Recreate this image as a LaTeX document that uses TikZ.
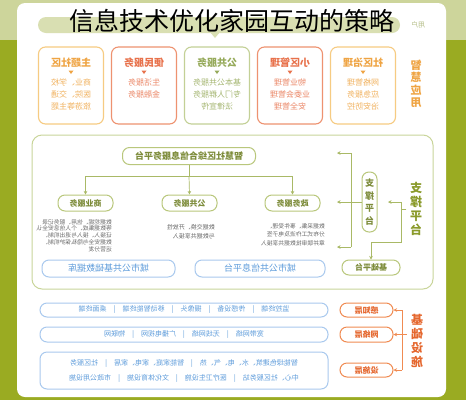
\documentclass[tikz,border=0pt]{standalone}
\usepackage{fontspec}
\setmainfont{Noto Sans CJK SC}
\usetikzlibrary{arrows.meta}

\definecolor{olivedark}{HTML}{9AAB22}
\definecolor{olivelight}{HTML}{CDD59B}
\definecolor{barfill}{HTML}{D9DFB2}
\definecolor{usertext}{HTML}{B5BE88}
\definecolor{ylwline}{HTML}{F6CB82}
\definecolor{ylwtext}{HTML}{EFA443}
\definecolor{salline}{HTML}{EE9270}
\definecolor{saltext}{HTML}{E8724C}
\definecolor{grnline}{HTML}{C3D096}
\definecolor{grntext}{HTML}{96AA5A}
\definecolor{panelline}{HTML}{C9D59A}
\definecolor{pillline}{HTML}{B9C77C}
\definecolor{pilltext}{HTML}{7D8C3A}
\definecolor{connline}{HTML}{A9B966}
\definecolor{desctext}{HTML}{6A6A6A}
\definecolor{blueline}{HTML}{A9C9EE}
\definecolor{bluetext}{HTML}{5E9CDB}
\definecolor{orgline}{HTML}{F08B52}
\definecolor{orgtext}{HTML}{E5672E}
\definecolor{labelolive}{HTML}{8A9A2A}

\newcommand{\fenge}{\quad|\quad}

\tikzset{
  appbox/.style={draw=#1,line width=1.1pt,rounded corners=7pt,minimum width=65pt,minimum height=77pt},
  apptitle/.style={text=#1,font=\fontsize{10}{10}\selectfont\bfseries},
  applines/.style={text=#1,font=\fontsize{8}{12}\selectfont,align=center,inner sep=0pt,anchor=north},
  pill/.style={draw=#1,line width=1pt,rounded corners=7pt,fill=white,inner sep=0pt},
  greenpill/.style={pill=pillline,text=pilltext,font=\fontsize{8}{8}\selectfont\bfseries},
  bluepill/.style={pill=blueline,text=bluetext,font=\fontsize{9}{9}\selectfont},
  rowpill/.style={pill=blueline,text=bluetext,font=\fontsize{7}{15}\selectfont,align=center,minimum width=288pt},
  orgpill/.style={pill=orgline,text=orgtext,font=\fontsize{8}{8}\selectfont\bfseries,minimum width=53pt,minimum height=14pt},
  desc/.style={text=desctext,align=left,inner sep=0pt,anchor=north west},
  sidelabel/.style={text=#1,font=\fontsize{12}{14}\selectfont\bfseries,align=center},
  conn/.style={draw=connline,line width=0.7pt},
  orgconn/.style={draw=orgline,line width=0.8pt},
  arrowtip/.style={-{Stealth[length=3.5pt,width=3.5pt]}}
}

\begin{document}
\begin{tikzpicture}[x=1pt,y=-1pt]
\useasboundingbox (0,0) rectangle (466,400);
% frame
\fill[olivelight] (0,0) rectangle (466,40);
\fill[olivedark] (0,40) rectangle (466,400);
\fill[white,rounded corners=8pt] (17,3) rectangle (446,397);

% the diagram is shown mirrored
\begin{scope}[xshift=466pt,xscale=-1,transform shape]
% users
\fill[barfill,rounded corners=8pt] (66,17) rectangle (428,33);
\fill[barfill] (246,32) -- (256,32) -- (251,38) -- cycle;
\node[text=usertext,font=\fontsize{7}{7}\selectfont] (yonghu) at (48,25) {用户};

% smart applications
\foreach \x/\lc/\tc/\t/\l/\n in {
  103/ylwline/ylwtext/社区治理/{网格管理\\应急服务\\治安防控}/zhili,
  176/salline/saltext/小区管理/{物业管理\\业委会管理\\安全管理}/xiaoqu,
  249/grnline/grntext/公共服务/{基本公共服务\\专门人群服务\\法律宣传}/gonggong,
  322/salline/saltext/便民服务/{生活服务\\金融服务}/bianmin,
  395/ylwline/ylwtext/主题社区/{商业、学校\\医院、交通\\旅游等主题}/zhuti}{
  \node[appbox=\lc] (\n) at (\x,85.5) {};
  \node[apptitle=\tc] (\n-t) at (\x,63) {\t};
  \fill[\tc] (\x-2.5,70.5) -- (\x+2.5,70.5) -- (\x,74) -- cycle;
  \node[applines=\tc!85] (\n-l) at (\x,78.5) {\l};
}
\node[sidelabel=ylwtext,font=\fontsize{11}{12.5}\selectfont\bfseries] (zhihui) at (50,84) {智\\慧\\应\\用};

% support platform
\node[draw=panelline,line width=1pt,rounded corners=10pt,minimum width=401pt,minimum height=154pt] (zhichengqu) at (233.5,212) {};
\node[greenpill,minimum width=133pt,minimum height=17pt,font=\fontsize{9}{9}\selectfont\bfseries] (zonghe) at (277,156) {智慧社区综合信息服务平台};
\node[greenpill,minimum width=55pt,minimum height=16pt] (zhengwu) at (173.5,203) {政务服务};
\node[greenpill,minimum width=55pt,minimum height=16pt] (gongfw) at (276.5,203) {公共服务};
\node[greenpill,minimum width=55pt,minimum height=16pt] (shangye) at (380.5,203) {商业服务};
\coordinate (fen) at (277,176);
\draw[conn] (zonghe.south) -- (fen);
\draw[conn,arrowtip] (fen) -- (gongfw.north);
\draw[conn,arrowtip] (fen) -| (zhengwu.north);
\draw[conn,arrowtip] (fen) -| (shangye.north);

\node[desc,font=\fontsize{5.8}{8.7}\selectfont] (zhengwu-d) at (141,223) {数据采集、事件受理、\\分布式工作流及电子签\\章并联审批数据共享接入};
\node[desc,font=\fontsize{6}{8.7}\selectfont] (gongfw-d) at (251,224) {数据交换、开放性\\与数据共享接入};
\node[desc,font=\fontsize{5.8}{6.8}\selectfont] (shangye-d) at (354,219) {数据挖掘、信用、服务记录\\等数据集成、个人信息安全认\\证接入、接入与退出机制、\\数据安全与隐私保护机制、\\运营分发};

\node[greenpill,minimum width=15pt,minimum height=60pt,align=center,font=\fontsize{9}{12.5}\selectfont\bfseries] (zcpill) at (96.5,202) {支\\撑\\平\\台};
\node[greenpill,minimum width=58pt,minimum height=15pt] (jichupt) at (95,267.5) {基础平台};
\node[sidelabel=labelolive] (zclabel) at (50,209) {支\\撑\\平\\台};

\coordinate (bk) at (115,202);
\coordinate (b1) at (129,153);
\coordinate (b2) at (129,202);
\coordinate (b3) at (129,247);
\draw[conn] (bk |- b1) -- (bk |- b3);
\draw[conn,arrowtip] (bk |- b1) -- (b1);
\draw[conn,arrowtip] (bk) -- (b2);
\draw[conn,arrowtip] (bk |- b3) -- (b3);
\draw[conn] (zcpill.east) -- (bk);

\coordinate (zr) at (65,202);
\coordinate (zrt) at (78,202);
\draw[conn,arrowtip] (zr) -- (zrt);
\draw[conn,arrowtip] (zr) -- (65,242) -- (jichupt.north |- 0,242) -- (jichupt.north);
\draw[conn] (zclabel.east) -- (zclabel.east -| zr);

\node[bluepill,minimum width=133pt,minimum height=17pt] (shujuku) at (357.5,268.5) {城市公共基础数据库};
\node[bluepill,minimum width=130pt,minimum height=17pt] (xinxipt) at (206,268.5) {城市公共信息平台};

% infrastructure
\node[rowpill,minimum height=14pt] (ganzhi-r) at (282,310) {监控终端\fenge 传感设备\fenge 摄像头\fenge 移动智能终端\fenge 桌面终端};
\node[rowpill,minimum height=15pt] (wangluo-r) at (282,334.5) {宽带网络\fenge 无线网络\fenge 广播电视网\fenge 物联网};
\node[rowpill,minimum height=37pt] (sheshi-r) at (282,370.5) {智能绿色建筑、水、电、气、热\fenge 智能家庭、家电、家居\fenge 社区服务\\中心、社区服务站\fenge 医疗卫生设施\fenge 文化体育设施\fenge 市政公用设施};

\node[orgpill] (ganzhi) at (99.5,310) {感知层};
\node[orgpill,minimum height=15pt] (wangluo) at (99.5,334.5) {网络层};
\node[orgpill] (sheshi) at (99.5,370) {设施层};
\node[sidelabel=orgtext] (jslabel) at (49,341) {基\\础\\设\\施};

\coordinate (jc) at (64,334.5);
\draw[orgconn] (jc |- ganzhi.west) -- (jc |- sheshi.west);
\foreach \p in {ganzhi,wangluo,sheshi}
  \draw[orgconn,arrowtip] (jc |- \p.west) -- (\p.west);
\draw[orgconn] (jc) -- (jslabel.east |- jc);
\end{scope}

\node[font=\fontsize{25}{25}\selectfont] (title) at (232,21) {信息技术优化家园互动的策略};
\end{tikzpicture}
\end{document}
